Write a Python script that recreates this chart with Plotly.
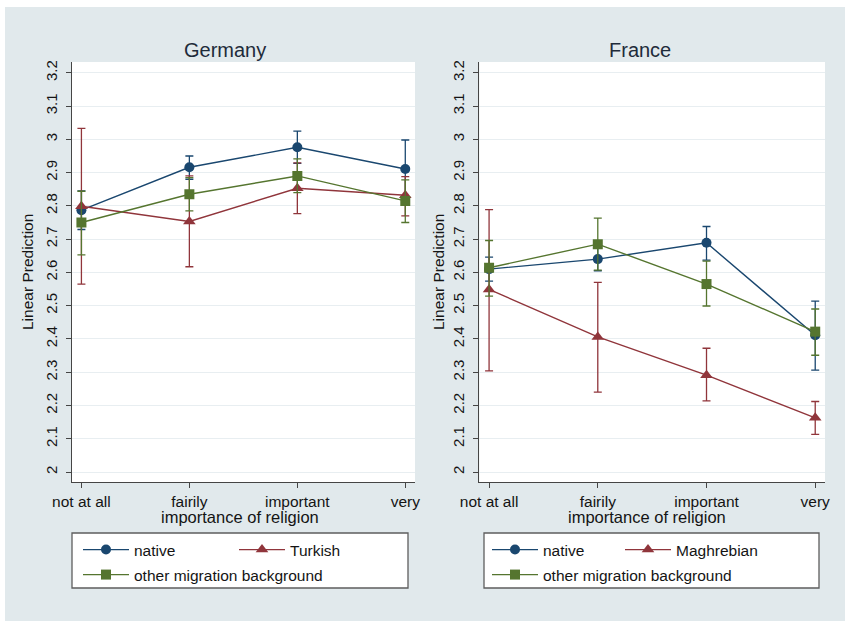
import plotly.graph_objects as go

W, H = 845, 621

categories = ["not at all", "fairily", "important", "very"]
x_pos = [0, 1, 2, 3]
y_tickvals = [2.0, 2.1, 2.2, 2.3, 2.4, 2.5, 2.6, 2.7, 2.8, 2.9, 3.0, 3.1, 3.2]
y_ticktext = ["2", "2.1", "2.2", "2.3", "2.4", "2.5", "2.6", "2.7", "2.8", "2.9", "3", "3.1", "3.2"]

# Germany
de_native = [2.787, 2.916, 2.976, 2.911]
de_native_lo = [2.729, 2.880, 2.928, 2.824]
de_native_hi = [2.845, 2.950, 3.025, 2.998]
de_turkish = [2.799, 2.753, 2.853, 2.832]
de_turkish_lo = [2.565, 2.617, 2.777, 2.770]
de_turkish_hi = [3.033, 2.890, 2.929, 2.888]
de_other = [2.750, 2.835, 2.890, 2.815]
de_other_lo = [2.653, 2.785, 2.840, 2.750]
de_other_hi = [2.844, 2.885, 2.941, 2.878]

# France
fr_native = [2.610, 2.640, 2.689, 2.411]
fr_native_lo = [2.574, 2.605, 2.637, 2.306]
fr_native_hi = [2.646, 2.675, 2.738, 2.514]
fr_magh = [2.549, 2.406, 2.291, 2.163]
fr_magh_lo = [2.304, 2.240, 2.214, 2.113]
fr_magh_hi = [2.789, 2.570, 2.372, 2.212]
fr_other = [2.614, 2.685, 2.565, 2.422]
fr_other_lo = [2.529, 2.607, 2.499, 2.351]
fr_other_hi = [2.696, 2.763, 2.634, 2.490]

NAVY = "#1a476f"
MAROON = "#90353b"
OLIVE = "#55752f"
BG = "#e1e9ec"
FONT = "Liberation Sans, Arial, sans-serif"
TXT = "#141414"


def px_x(p):
    return p / W


def px_y(p):
    return 1 - p / H


fig = go.Figure()


def add(name, y, lo, hi, color, symbol, xa, ya, legend):
    fig.add_trace(go.Scatter(
        x=x_pos, y=y, name=name, mode="lines+markers",
        xaxis=xa, yaxis=ya, legend=legend,
        line=dict(color=color, width=1.4),
        marker=dict(color=color, symbol=symbol, size=10 if symbol != "triangle-up" else 11),
        error_y=dict(type="data", symmetric=False,
                     array=[h - v for h, v in zip(hi, y)],
                     arrayminus=[v - l for v, l in zip(y, lo)],
                     color=color, thickness=1.3, width=4),
    ))


add("native", de_native, de_native_lo, de_native_hi, NAVY, "circle", "x", "y", "legend")
add("Turkish", de_turkish, de_turkish_lo, de_turkish_hi, MAROON, "triangle-up", "x", "y", "legend2")
add("other migration background", de_other, de_other_lo, de_other_hi, OLIVE, "square", "x", "y", "legend3")
add("native", fr_native, fr_native_lo, fr_native_hi, NAVY, "circle", "x2", "y2", "legend4")
add("Maghrebian", fr_magh, fr_magh_lo, fr_magh_hi, MAROON, "triangle-up", "x2", "y2", "legend5")
add("other migration background", fr_other, fr_other_lo, fr_other_hi, OLIVE, "square", "x2", "y2", "legend6")

AXC = "#454545"
xcommon = dict(range=[-0.09, 3.09], tickvals=x_pos, ticktext=categories,
               ticks="outside", ticklen=5, tickcolor=AXC, showline=True,
               linecolor=AXC, linewidth=1, showgrid=False, zeroline=False,
               automargin=False,
               tickfont=dict(size=15.5, color=TXT, family=FONT), fixedrange=True)
ycommon = dict(range=[1.97, 3.2325], tickvals=y_tickvals, ticktext=y_ticktext,
               tickangle=-90, ticks="outside", ticklen=5, tickcolor=AXC,
               showline=True, linecolor=AXC, linewidth=1, showgrid=True,
               gridcolor="#e8eef1", gridwidth=1, zeroline=False,
               ticklabelstandoff=3, automargin=False,
               tickfont=dict(size=15, color=TXT, family=FONT), fixedrange=True)

ydom = [px_y(482), px_y(62)]
fig.update_layout(
    xaxis=dict(domain=[px_x(71.7), px_x(415)], anchor="y", **xcommon),
    yaxis=dict(domain=ydom, anchor="x", **ycommon),
    xaxis2=dict(domain=[px_x(479.3), px_x(825)], anchor="y2", **xcommon),
    yaxis2=dict(domain=ydom, anchor="x2", **ycommon),
)

legend_common = dict(orientation="h", bgcolor="rgba(0,0,0,0)", borderwidth=0,
                     font=dict(size=15.5, color=TXT, family=FONT),
                     itemwidth=46, xanchor="left", yanchor="middle",
                     itemclick=False, itemdoubleclick=False)
fig.update_layout(
    legend=dict(x=px_x(78), y=px_y(550), **legend_common),
    legend2=dict(x=px_x(234), y=px_y(550), **legend_common),
    legend3=dict(x=px_x(78), y=px_y(575), **legend_common),
    legend4=dict(x=px_x(487), y=px_y(550), **legend_common),
    legend5=dict(x=px_x(620), y=px_y(550), **legend_common),
    legend6=dict(x=px_x(487), y=px_y(575), **legend_common),
)

shapes = [
    dict(type="rect", xref="paper", yref="paper", x0=0, x1=1, y0=px_y(7), y1=1,
         fillcolor="white", line=dict(width=0), layer="below"),
    dict(type="rect", xref="paper", yref="paper", x0=0, x1=px_x(5), y0=0, y1=1,
         fillcolor="white", line=dict(width=0), layer="below"),
    dict(type="rect", xref="paper", yref="paper", x0=px_x(72), x1=px_x(408),
         y0=px_y(588), y1=px_y(533), fillcolor="white",
         line=dict(color="#5e5e5e", width=1.3), layer="below"),
    dict(type="rect", xref="paper", yref="paper", x0=px_x(484), x1=px_x(819),
         y0=px_y(588), y1=px_y(533), fillcolor="white",
         line=dict(color="#5e5e5e", width=1.3), layer="below"),
]

TITLE_C = "#1e2b3a"
annotations = [
    dict(text="Germany", x=px_x(225), y=px_y(50), font=dict(size=20, color=TITLE_C, family=FONT)),
    dict(text="France", x=px_x(640), y=px_y(50), font=dict(size=20, color=TITLE_C, family=FONT)),
    dict(text="importance of religion", x=px_x(240), y=px_y(517), font=dict(size=16.5, color=TXT, family=FONT)),
    dict(text="importance of religion", x=px_x(647), y=px_y(517), font=dict(size=16.5, color=TXT, family=FONT)),
    dict(text="Linear Prediction", x=px_x(28), y=px_y(272), textangle=-90, font=dict(size=15.5, color=TXT, family=FONT)),
    dict(text="Linear Prediction", x=px_x(439), y=px_y(272), textangle=-90, font=dict(size=15.5, color=TXT, family=FONT)),
]
for a in annotations:
    a.update(xref="paper", yref="paper", showarrow=False, xanchor="center", yanchor="middle")

fig.update_layout(
    width=W, height=H, margin=dict(l=0, r=0, t=0, b=0, pad=0, autoexpand=False),
    paper_bgcolor=BG, plot_bgcolor="white",
    font=dict(family=FONT, color=TXT),
    shapes=shapes, annotations=annotations, showlegend=True,
)

fig.write_html(
    "out.html",
    config={"displayModeBar": False, "responsive": False},
    post_script="document.body.style.margin='0';document.body.style.padding='0';document.body.style.overflow='hidden';",
)
